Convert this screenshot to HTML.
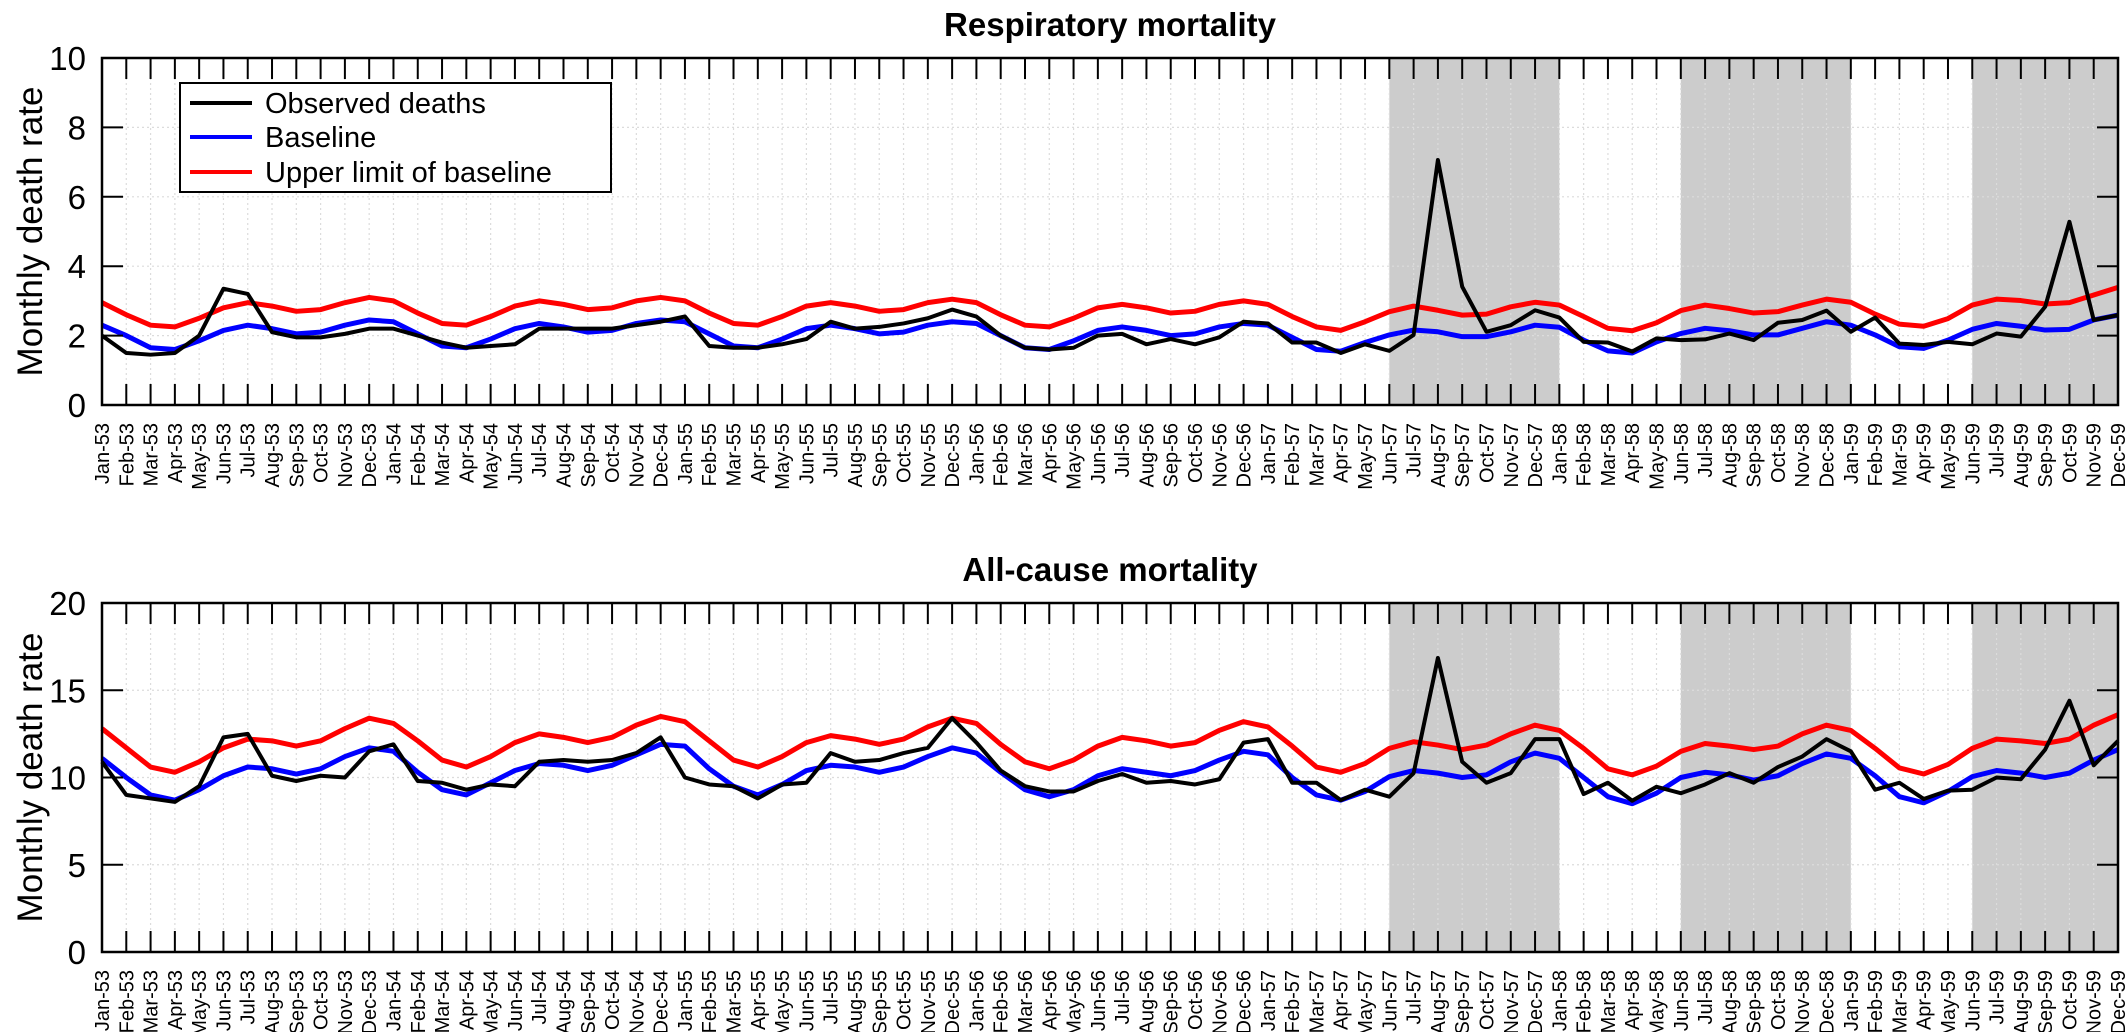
<!DOCTYPE html>
<html><head><meta charset="utf-8"><style>
html,body{margin:0;padding:0;background:#fff;}
svg{display:block;font-family:"Liberation Sans",Arial,sans-serif;}
</style></head><body>
<svg id="chart" width="2128" height="1032" viewBox="0 0 2128 1032" xmlns="http://www.w3.org/2000/svg"></svg>
<script>
const months = ["Jan","Feb","Mar","Apr","May","Jun","Jul","Aug","Sep","Oct","Nov","Dec"];
const years = ["53","54","55","56","57","58","59"];
const categories = [];
years.forEach(y => months.forEach(m => categories.push(m + "-" + y)));
const shadedStart = ["Jun-57","Jun-58","Jun-59"];
const shadedEnd = ["Jan-58","Jan-59","Dec-59"];

const respObserved = [2.0,1.5,1.45,1.5,2.0,3.35,3.2,2.1,1.95,1.95,2.05,2.2,
 2.2,2.0,1.8,1.65,1.7,1.75,2.2,2.2,2.2,2.2,2.3,2.4,
 2.55,1.7,1.65,1.65,1.75,1.9,2.4,2.2,2.25,2.35,2.5,2.75,
 2.55,2.0,1.65,1.6,1.65,2.0,2.05,1.75,1.9,1.75,1.95,2.4,
 2.35,1.8,1.8,1.5,1.75,1.56,2.02,7.06,3.41,2.11,2.3,2.73,
 2.52,1.82,1.8,1.54,1.92,1.87,1.89,2.06,1.87,2.37,2.45,2.72,
 2.11,2.52,1.77,1.73,1.82,1.75,2.06,1.97,2.83,5.28,2.45,2.59];
const respBaseline = [2.3,2.0,1.65,1.6,1.85,2.15,2.3,2.2,2.05,2.1,2.3,2.45,
 2.4,2.05,1.7,1.65,1.9,2.2,2.35,2.25,2.1,2.15,2.35,2.45,
 2.4,2.05,1.7,1.65,1.9,2.2,2.3,2.2,2.05,2.1,2.3,2.4,
 2.35,2.0,1.65,1.6,1.85,2.15,2.25,2.15,2.0,2.05,2.25,2.35,
 2.3,1.95,1.6,1.55,1.8,2.02,2.16,2.11,1.97,1.97,2.11,2.3,
 2.24,1.87,1.56,1.5,1.82,2.06,2.21,2.14,2.02,2.02,2.21,2.4,
 2.3,2.02,1.68,1.63,1.87,2.18,2.35,2.27,2.16,2.18,2.45,2.59];
const respUpper = [2.95,2.6,2.3,2.25,2.5,2.8,2.95,2.85,2.7,2.75,2.95,3.1,
 3.0,2.65,2.35,2.3,2.55,2.85,3.0,2.9,2.75,2.8,3.0,3.1,
 3.0,2.65,2.35,2.3,2.55,2.85,2.95,2.85,2.7,2.75,2.95,3.05,
 2.95,2.6,2.3,2.25,2.5,2.8,2.9,2.8,2.65,2.7,2.9,3.0,
 2.9,2.55,2.25,2.15,2.4,2.69,2.85,2.73,2.59,2.62,2.83,2.96,
 2.88,2.55,2.21,2.14,2.37,2.72,2.88,2.78,2.65,2.69,2.88,3.05,
 2.96,2.62,2.33,2.27,2.49,2.88,3.05,3.01,2.91,2.95,3.17,3.39];

const allObserved = [10.9,9.0,8.8,8.6,9.5,12.3,12.5,10.1,9.8,10.1,10.0,11.5,
 11.9,9.8,9.7,9.3,9.6,9.5,10.9,11.0,10.9,11.0,11.4,12.3,
 10.0,9.6,9.5,8.8,9.6,9.7,11.4,10.9,11.0,11.4,11.7,13.4,
 12.0,10.4,9.5,9.2,9.2,9.8,10.2,9.7,9.8,9.6,9.9,12.0,
 12.2,9.7,9.7,8.7,9.3,8.9,10.25,16.85,10.9,9.7,10.25,12.2,
 12.2,9.05,9.7,8.67,9.47,9.1,9.6,10.25,9.7,10.6,11.2,12.2,
 11.5,9.3,9.7,8.77,9.25,9.3,10.0,9.9,11.6,14.4,10.7,12.1];
const allBaseline = [11.1,10.0,9.0,8.7,9.3,10.1,10.6,10.5,10.2,10.5,11.2,11.7,
 11.5,10.3,9.3,9.0,9.7,10.4,10.8,10.7,10.4,10.7,11.3,11.9,
 11.8,10.5,9.5,9.0,9.6,10.4,10.7,10.6,10.3,10.6,11.2,11.7,
 11.4,10.3,9.3,8.9,9.3,10.1,10.5,10.3,10.1,10.4,11.0,11.5,
 11.3,10.0,9.0,8.7,9.2,10.05,10.4,10.25,10.0,10.15,10.9,11.4,
 11.1,10.0,8.9,8.5,9.1,10.0,10.3,10.15,9.85,10.1,10.8,11.35,
 11.1,10.1,8.9,8.55,9.2,10.05,10.4,10.25,10.0,10.25,11.0,11.6];
const allUpper = [12.8,11.7,10.6,10.3,10.9,11.7,12.2,12.1,11.8,12.1,12.8,13.4,
 13.1,12.1,11.0,10.6,11.2,12.0,12.5,12.3,12.0,12.3,13.0,13.5,
 13.2,12.1,11.0,10.6,11.2,12.0,12.4,12.2,11.9,12.2,12.9,13.4,
 13.1,11.9,10.9,10.5,11.0,11.8,12.3,12.1,11.8,12.0,12.7,13.2,
 12.9,11.8,10.6,10.3,10.8,11.67,12.05,11.86,11.6,11.86,12.5,13.0,
 12.7,11.67,10.5,10.15,10.65,11.5,11.95,11.8,11.6,11.8,12.5,13.0,
 12.7,11.67,10.55,10.2,10.75,11.67,12.2,12.1,11.95,12.2,13.0,13.6];

const respTicks = [0,2,4,6,8,10];
const allTicks = [0,5,10,15,20];

const NS = "http://www.w3.org/2000/svg";
const svg = document.getElementById("chart");
const X0 = 102, X1 = 2118;
function xPos(i){ return X0 + i*(X1-X0)/(categories.length-1); }
function mk(tag, attrs, parent){
  const e = document.createElementNS(NS, tag);
  for (const k in attrs) e.setAttribute(k, attrs[k]);
  (parent||svg).appendChild(e);
  return e;
}

function drawPanel(key, title, top, bottom, ymax, ticks, obs, base, upper, legend){
  const g = mk("g", {});
  
  
  const yPos = v => bottom - v/ymax*(bottom-top);
  // shading
  for (let s=0; s<shadedStart.length; s++){
    const a = xPos(categories.indexOf(shadedStart[s])), b = xPos(categories.indexOf(shadedEnd[s]));
    const r = mk("rect", {x:a, y:top, width:b-a, height:bottom-top, fill:"#cccccc"}, g);
    
    
  }
  // grid
  categories.forEach((c,i) => {
    const l = mk("line", {x1:xPos(i), x2:xPos(i), y1:top, y2:bottom, stroke:"#dcdcdc", "stroke-width":1.2, "stroke-dasharray":"2,3"}, g);
    
    
  });
  ticks.forEach(t => {
    const l = mk("line", {x1:X0, x2:X1, y1:yPos(t), y2:yPos(t), stroke:"#dcdcdc", "stroke-width":1.2, "stroke-dasharray":"2,3"}, g);
    
    
  });
  // series
  const series = [[upper,"#ff0000",5,"upper-limit-line"],[base,"#0000ff",5,"baseline-line"],[obs,"#000000",4,"observed-line"]];
  series.forEach(([vals,col,w,name]) => {
    const p = mk("polyline", {points: vals.map((v,i)=>xPos(i)+","+yPos(v)).join(" "), fill:"none", stroke:col, "stroke-width":w, "stroke-linejoin":"round"}, g);
    
    
  });
  // axes box
  const box = mk("rect", {x:X0, y:top, width:X1-X0, height:bottom-top, fill:"none", stroke:"#000", "stroke-width":2.5}, g);
  
  
  // x ticks + labels
  categories.forEach((c,i) => {
    const x = xPos(i);
    mk("line", {x1:x, x2:x, y1:bottom, y2:bottom-21, stroke:"#000", "stroke-width":2}, g);
    mk("line", {x1:x, x2:x, y1:top, y2:top+21, stroke:"#000", "stroke-width":2}, g);
    const t = mk("text", {x:0, y:0, transform:"translate("+(x+7)+","+(bottom+18)+") rotate(-90)", "text-anchor":"end", "font-size":20}, g);
    
    
    t.textContent = c;
  });
  // y ticks + labels
  ticks.forEach(v => {
    const y = yPos(v);
    mk("line", {x1:X0, x2:X0+21, y1:y, y2:y, stroke:"#000", "stroke-width":2}, g);
    mk("line", {x1:X1, x2:X1-21, y1:y, y2:y, stroke:"#000", "stroke-width":2}, g);
    const t = mk("text", {x:86, y:y+12, "text-anchor":"end", "font-size":33}, g);
    
    
    t.textContent = v;
  });
  const yt = mk("text", {x:0, y:0, transform:"translate(42,"+((top+bottom)/2)+") rotate(-90)", "text-anchor":"middle", "font-size":35}, g);
  
  
  yt.textContent = "Monthly death rate";
  const tt = mk("text", {x:(X0+X1)/2, y:top-22, "text-anchor":"middle", "font-size":33, "font-weight":"bold"}, g);
  
  
  tt.textContent = title;

  if (legend){
    const lg = mk("g", {}, g);
    
    
    mk("rect", {x:180, y:83, width:431, height:109, fill:"#fff", stroke:"#000", "stroke-width":2}, lg);
    const entries = [["Observed deaths","#000",103],["Baseline","#0000ff",137],["Upper limit of baseline","#ff0000",172]];
    entries.forEach(([lab,col,yy]) => {
      const e = mk("g", {}, lg);
      
      
      mk("line", {x1:190, x2:252, y1:yy, y2:yy, stroke:col, "stroke-width":4}, e);
      const t = mk("text", {x:265, y:yy+10, "font-size":29}, e);
      t.textContent = lab;
    });
  }
}
drawPanel("respiratory", "Respiratory mortality", 58, 405, 10, respTicks, respObserved, respBaseline, respUpper, true);
drawPanel("all-cause", "All-cause mortality", 603, 952, 20, allTicks, allObserved, allBaseline, allUpper, false);
</script>
</body></html>
